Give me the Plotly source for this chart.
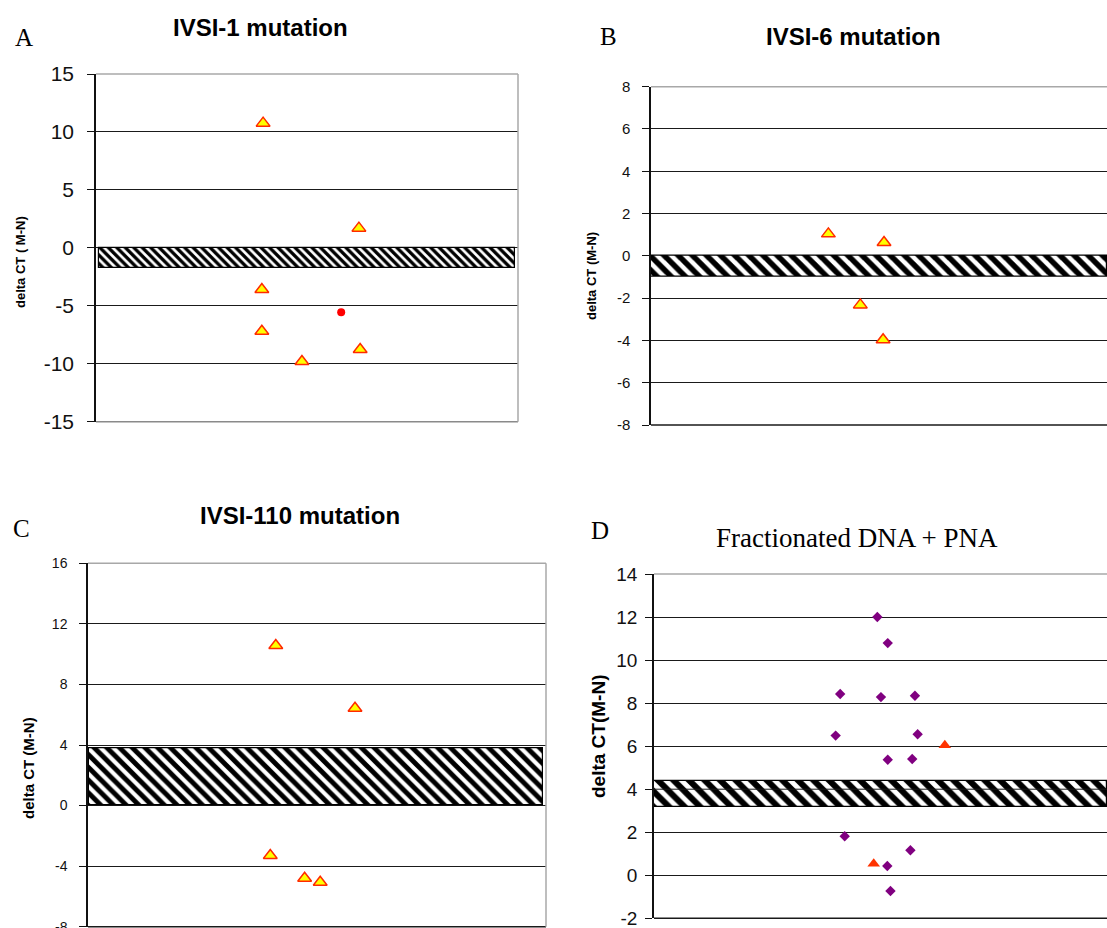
import plotly.graph_objects as go

W, H = 1107, 928

# ---------------- data ----------------
# Panel A : IVSI-1 mutation
a_tri_x = [0.396, 0.623, 0.393, 0.393, 0.488, 0.626]
a_tri_y = [10.76, 1.70, -3.60, -7.19, -9.81, -8.77]
a_dot_x = [0.581]
a_dot_y = [-5.55]
a_band_top, a_band_bottom = 0.0, -1.73
a_ticks = [-15, -10, -5, 0, 5, 10, 15]

# Panel B : IVSI-6 mutation
b_tri_x = [0.389, 0.511, 0.459, 0.509]
b_tri_y = [1.04, 0.63, -2.32, -3.97]
b_band_top, b_band_bottom = 0.0, -1.0
b_ticks = [-8, -6, -4, -2, 0, 2, 4, 6, 8]

# Panel C : IVSI-110 mutation
c_tri_x = [0.410, 0.583, 0.398, 0.473, 0.507]
c_tri_y = [10.57, 6.43, -3.30, -4.80, -5.07]
c_band_top, c_band_bottom = 3.79, 0.0
c_ticks = [-8, -4, 0, 4, 8, 12, 16]

# Panel D : Fractionated DNA + PNA
d_dia_x = [0.493, 0.516, 0.411, 0.501, 0.576, 0.401, 0.582, 0.516, 0.570,
           0.421, 0.566, 0.515, 0.522]
d_dia_y = [12.0, 10.79, 8.42, 8.28, 8.34, 6.49, 6.55, 5.37, 5.40,
           1.81, 1.16, 0.43, -0.73]
d_tri_x = [0.642, 0.485]
d_tri_y = [6.04, 0.54]
d_band_top, d_band_bottom = 4.36, 3.19
d_ticks = [-2, 0, 2, 4, 6, 8, 10, 12, 14]

titles = ["IVSI-1 mutation", "IVSI-6 mutation", "IVSI-110 mutation",
          "Fractionated DNA + PNA"]
letters = ["A", "B", "C", "D"]
ytitles = ["delta CT ( M-N)", "delta CT (M-N)", "delta CT (M-N)", "delta CT(M-N)"]

# ---------------- styling ----------------
SANS = "Liberation Sans, Arial, sans-serif"
SERIF = "Liberation Serif, Times New Roman, serif"
TRI_FILL = "#ffff00"
TRI_EDGE = "#ff2a00"


def px(x):
    return x / W


def py(y):
    return 1 - y / H


panels = [
    dict(ax="", xd=[px(96), px(518)], yd=[py(421.7), py(74)], rng=[-15, 15], ticks=a_ticks,
         tfs=21, standoff=9, bx=(0.006, 0.993), psize=6, border=True, bottom="#8a8a8a"),
    dict(ax="2", xd=[px(651), 1.0], yd=[py(425), py(86.7)], rng=[-8, 8], ticks=b_ticks,
         tfs=15, standoff=9, bx=(0.0, 1.0), psize=10, border=False, bottom="#1a1a1a"),
    dict(ax="3", xd=[px(88), px(546)], yd=[py(926.7), py(563.3)], rng=[-8, 16], ticks=c_ticks,
         tfs=14, standoff=9, bx=(0.002, 0.993), psize=9, border=True, bottom="#1a1a1a"),
    dict(ax="4", xd=[px(654), 1.0], yd=[py(918.3), py(574)], rng=[-2, 14], ticks=d_ticks,
         tfs=19, standoff=4, bx=(0.0, 1.0), psize=11, border=False, bottom="#1a1a1a"),
]
bands = [(a_band_bottom, a_band_top), (b_band_bottom, b_band_top),
         (c_band_bottom, c_band_top), (d_band_bottom, d_band_top)]

fig = go.Figure()

for p, (bb, bt) in zip(panels, bands):
    xa = "x" + p["ax"]
    ya = "y" + p["ax"]
    x0, x1 = p["bx"]
    fig.add_trace(go.Bar(
        x=[(x0 + x1) / 2], y=[bt - bb], base=[bb], width=[x1 - x0],
        xaxis=xa, yaxis=ya, showlegend=False, hoverinfo="skip",
        marker=dict(color="white",
                    line=dict(color="black", width=1.2),
                    pattern=dict(shape="\\", fgcolor="#000000", bgcolor="white",
                                 fgopacity=1, size=p["psize"], solidity=0.55)),
    ))

tri_marker = dict(symbol="triangle-up", size=12, color=TRI_FILL,
                  line=dict(color=TRI_EDGE, width=1.5))

fig.add_trace(go.Scatter(x=a_tri_x, y=a_tri_y, mode="markers", marker=tri_marker,
                         xaxis="x", yaxis="y", showlegend=False))
fig.add_trace(go.Scatter(x=a_dot_x, y=a_dot_y, mode="markers",
                         marker=dict(symbol="circle", size=8, color="#ff0000"),
                         xaxis="x", yaxis="y", showlegend=False))
fig.add_trace(go.Scatter(x=b_tri_x, y=b_tri_y, mode="markers", marker=tri_marker,
                         xaxis="x2", yaxis="y2", showlegend=False))
fig.add_trace(go.Scatter(x=c_tri_x, y=c_tri_y, mode="markers", marker=tri_marker,
                         xaxis="x3", yaxis="y3", showlegend=False))
fig.add_trace(go.Scatter(x=d_dia_x, y=d_dia_y, mode="markers",
                         marker=dict(symbol="diamond", size=8, color="#800080"),
                         xaxis="x4", yaxis="y4", showlegend=False))
fig.add_trace(go.Scatter(x=d_tri_x, y=d_tri_y, mode="markers",
                         marker=dict(symbol="triangle-up", size=11, color="#ff3300"),
                         xaxis="x4", yaxis="y4", showlegend=False))

layout = dict(
    width=W, height=H, margin=dict(l=0, r=0, t=0, b=0, autoexpand=False),
    paper_bgcolor="white", plot_bgcolor="white",
    bargap=0, showlegend=False,
)

shapes = []
for i, p in enumerate(panels):
    xk = "xaxis" + p["ax"]
    yk = "yaxis" + p["ax"]
    xa = "x" + p["ax"]
    ya = "y" + p["ax"]
    layout[xk] = dict(domain=p["xd"], range=[0, 1], showgrid=False, zeroline=False,
                      showline=False, showticklabels=False, ticks="",
                      anchor=ya, fixedrange=True, automargin=False)
    layout[yk] = dict(domain=p["yd"], range=p["rng"], tickvals=p["ticks"],
                      ticktext=[str(t) for t in p["ticks"]],
                      showgrid=True, gridcolor="#1a1a1a", gridwidth=1,
                      zeroline=False, showline=True, linecolor="#111111", linewidth=1.5,
                      ticks="outside", ticklen=7, tickcolor="#111111",
                      tickfont=dict(family=SANS, size=p["tfs"], color="#111111"),
                      ticklabelstandoff=p["standoff"], ticklabeloverflow="allow",
                      automargin=False, anchor=xa, fixedrange=True)
    shapes.append(dict(type="line", xref=xa + " domain", yref=ya + " domain",
                       x0=0, x1=1, y0=1, y1=1, line=dict(color="#a8a8a8", width=1.5),
                       layer="above"))
    shapes.append(dict(type="line", xref=xa + " domain", yref=ya + " domain",
                       x0=0, x1=1, y0=0, y1=0, line=dict(color=p["bottom"], width=1.5),
                       layer="above"))
    if p["border"]:
        shapes.append(dict(type="line", xref=xa + " domain", yref=ya + " domain",
                           x0=1, x1=1, y0=0, y1=1, line=dict(color="#a8a8a8", width=1.5),
                           layer="above"))

shapes.append(dict(type="line", xref="x4 domain", yref="y4", x0=0, x1=1, y0=4, y1=4,
                   line=dict(color="#1a1a1a", width=1), layer="above"))
layout["shapes"] = shapes

ann = []
for letter, (x, y) in zip(letters, [(24, 38), (608, 37), (21, 528), (600, 530)]):
    ann.append(dict(text=letter, x=px(x), y=py(y), xref="paper", yref="paper",
                    showarrow=False, xanchor="center", yanchor="middle",
                    font=dict(family=SERIF, size=25, color="black")))
for k, (t, (x, y)) in enumerate(zip(titles, [(260, 28), (853, 36), (300, 515), (857, 538)])):
    if k < 3:
        f = dict(family=SANS, size=24, color="black")
        t = "<b>" + t + "</b>"
    else:
        f = dict(family=SERIF, size=27, color="black")
    ann.append(dict(text=t, x=px(x), y=py(y), xref="paper", yref="paper",
                    showarrow=False, xanchor="center", yanchor="middle", font=f))
for t, (x, y), s in zip(ytitles, [(20, 262), (591, 276), (28, 768), (598, 737)],
                        [13, 13, 15, 19]):
    ann.append(dict(text="<b>" + t + "</b>", x=px(x), y=py(y), xref="paper", yref="paper",
                    showarrow=False, xanchor="center", yanchor="middle", textangle=-90,
                    font=dict(family=SANS, size=s, color="black")))
layout["annotations"] = ann

fig.update_layout(**layout)

# remove the default page margin so the 1107x928 figure fills the window exactly
post = ("document.documentElement.style.margin='0';"
        "document.documentElement.style.overflow='hidden';"
        "document.body.style.margin='0';document.body.style.padding='0';"
        "document.body.style.overflow='hidden';")
fig.write_html("out.html", post_script=post, config={"displayModeBar": False})
